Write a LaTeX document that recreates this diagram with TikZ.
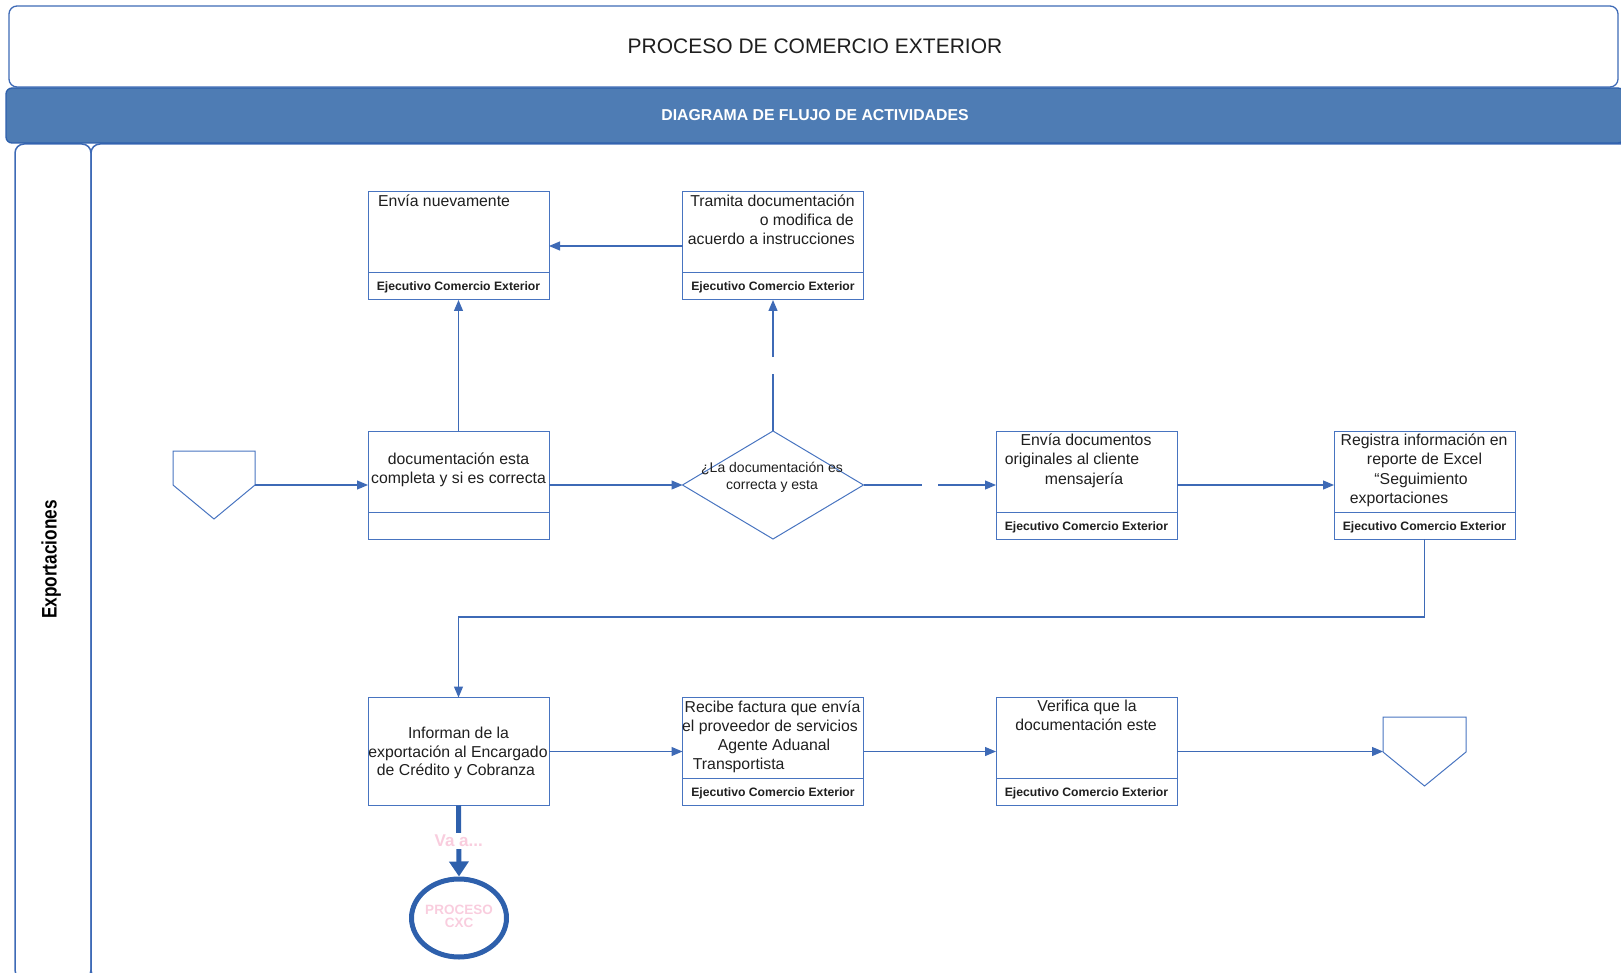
\documentclass[tikz,border=0pt]{standalone}
\usepackage{fontspec}
\usepackage{graphicx}
\setmainfont{Liberation Sans}
\usetikzlibrary{arrows.meta,shapes.geometric,calc}
\definecolor{lnblue}{RGB}{62,106,182}
\definecolor{bxblue}{RGB}{72,116,192}
\definecolor{dkblue}{RGB}{46,96,172}
\definecolor{bandc}{RGB}{78,124,180}
\definecolor{pinkt}{RGB}{249,205,222}
\begin{document}
\begin{tikzpicture}[x=1pt,y=-1pt,
  bx/.style={draw=bxblue, line width=1.0pt},
  box/.style={bx, minimum width=181pt, minimum height=108pt, inner sep=0pt, outer sep=0pt},
  arr/.style={draw=lnblue, line width=1.2pt, -{Triangle[length=11pt,width=9pt]}},
  ln/.style={draw=lnblue, line width=1.2pt},
  lanebox/.style={draw=lnblue, line width=1.5pt, rounded corners=9pt},
  txt/.style={font=\fontsize{15.8}{19}\selectfont, inner sep=0pt, text=black!88, anchor=base},
  dtxt/.style={font=\fontsize{14}{17}\selectfont, inner sep=0pt, text=black!88, anchor=base},
  foot/.style={font=\fontsize{12.2}{14}\selectfont\bfseries, inner sep=0pt, anchor=base, text=black!88},
  pinklbl/.style={text=pinkt, inner sep=2pt}
]
\useasboundingbox (0,0) rectangle (1621,973);

% lanes
\draw[lanebox] (15,144) rectangle (91,979);
\draw[lanebox] (91,144) rectangle (1634,979);
\node[rotate=90, anchor=base, inner sep=0pt, font=\fontsize{21}{24}\selectfont\bfseries] (lane) at (56.5,559.5) {\scalebox{0.82}[1]{Exportaciones}};

% header
\node[draw=lnblue, line width=1.3pt, fill=white, rounded corners=8pt, minimum width=1609pt, minimum height=81pt, inner sep=0pt] (titlebox) at (813.5,46.5) {};
\node[font=\fontsize{21}{24}\selectfont, anchor=base, inner sep=0pt, text=black!88] (ttl) at (815,53.3) {PROCESO DE COMERCIO EXTERIOR};
\node[draw=dkblue, line width=1.3pt, fill=bandc, rounded corners=6pt, minimum width=1618pt, minimum height=55pt, inner sep=0pt] (band) at (815,115.5) {};
\node[font=\fontsize{15.8}{18}\selectfont\bfseries, text=white, anchor=base, inner sep=0pt] (bandt) at (815,121) {DIAGRAMA DE FLUJO DE ACTIVIDADES};

% boxes
\node[box] (nuev) at (458.5,246) {};
\node[box] (tram) at (773,246) {};
\node[box] (docA) at (458.5,485) {};
\node[diamond, bx, minimum width=181pt, minimum height=108pt, inner sep=0pt, outer sep=0pt] (dia) at (773,485) {};
\node[box] (envd) at (1086.5,485) {};
\node[box] (reg) at (1424.5,485) {};
\node[box] (inf) at (458.5,751.5) {};
\node[box] (rec) at (773,751.5) {};
\node[box] (ver) at (1086.5,751.5) {};
\node[ellipse, draw=dkblue, line width=5pt, minimum width=95pt, minimum height=78pt, inner sep=0pt] (cxc) at (459,918) {};

% footers
\foreach \b in {nuev,tram,docA,envd,reg,rec,ver}{
  \draw[bx] ($(\b.south west)+(0,-27)$) -- ($(\b.south east)+(0,-27)$);
}
\foreach \b/\n in {nuev/fa,tram/fb,envd/fc,reg/fd,rec/fe,ver/ff}{
  \node[foot] (\n) at ($(\b.south)+(0,-9)$) {Ejecutivo Comercio Exterior};
}

% off-page connectors
\draw[bx, line join=miter] (173,451) -- (255,451) -- (255,485) -- (214,519) -- (173,485) -- cycle;
\coordinate (startR) at (255,485);
\draw[bx, line join=miter] (1383,717) -- (1466,717) -- (1466,752) -- (1424.5,786) -- (1383,752) -- cycle;
\coordinate (endL) at (1383,751.5);

% texts
\node[txt, anchor=base west] (t1) at (378,206.5) {Envía nuevamente};
\node[txt, anchor=base east] (t2a) at (855,206.5) {Tramita documentación};
\node[txt, anchor=base east] (t2b) at (854,226) {o modifica de};
\node[txt, anchor=base east] (t2c) at (855,245) {acuerdo a instrucciones};
\node[txt] (t3a) at (458.5,464.5) {documentación esta};
\node[txt] (t3b) at (458.5,483.5) {completa y si es correcta};
\node[dtxt] (t4a) at (772,472.5) {¿La documentación es};
\node[dtxt] (t4b) at (772,489.5) {correcta y esta};
\node[txt] (t5a) at (1086,445) {Envía documentos};
\node[txt] (t5b) at (1072,464) {originales al cliente};
\node[txt] (t5c) at (1084,484) {mensajería};
\node[txt] (t6a) at (1424,445) {Registra información en};
\node[txt] (t6b) at (1424.5,464) {reporte de Excel};
\node[txt] (t6c) at (1421,484) {“Seguimiento};
\node[txt] (t6d) at (1399,503) {exportaciones};
\node[txt] (t7a) at (458.5,738) {Informan de la};
\node[txt] (t7b) at (458,757) {exportación al Encargado};
\node[txt] (t7c) at (456,775.5) {de Crédito y Cobranza};
\node[txt] (t8a) at (772.5,712) {Recibe factura que envía};
\node[txt] (t8b) at (770,731) {el proveedor de servicios};
\node[txt] (t8c) at (774,750) {Agente Aduanal};
\node[txt] (t8d) at (738.7,769) {Transportista};
\node[txt] (t9a) at (1087,711.5) {Verifica que la};
\node[txt] (t9b) at (1086,730) {documentación este};

% connectors
\coordinate (g1a) at (773,374);
\coordinate (g1b) at (773,357);
\coordinate (g2a) at (922,485);
\coordinate (g2b) at (938,485);
\coordinate (turn) at (1424.5,617);
\draw[arr] (startR) -- (docA.west);
\draw[arr] (docA.north) -- (nuev.south);
\draw[arr] (docA.east) -- (dia.west);
\draw[ln] (dia.north) -- (g1a);
\draw[arr] (g1b) -- (tram.south);
\draw[arr] (tram.west) -- (nuev.east);
\draw[ln] (dia.east) -- (g2a);
\draw[arr] (g2b) -- (envd.west);
\draw[arr] (envd.east) -- (reg.west);
\draw[arr] (reg.south) -- (turn) -| (inf.north);
\draw[arr] (inf.east) -- (rec.west);
\draw[arr] (rec.east) -- (ver.west);
\draw[arr] (ver.east) -- (endL);
\draw[draw=dkblue, line width=5pt, -{Triangle[length=15pt,width=19pt]}] (inf.south) -- (cxc.north)
  node[midway, fill=white, pinklbl, font=\fontsize{17}{20}\selectfont\bfseries] (vaa) {Va a...};
\node[text=pinkt, align=center, inner sep=0pt, font=\fontsize{13.5}{12.5}\selectfont\bfseries] (cxct) at (459,916.5) {PROCESO\\CXC};
\end{tikzpicture}
\end{document}
